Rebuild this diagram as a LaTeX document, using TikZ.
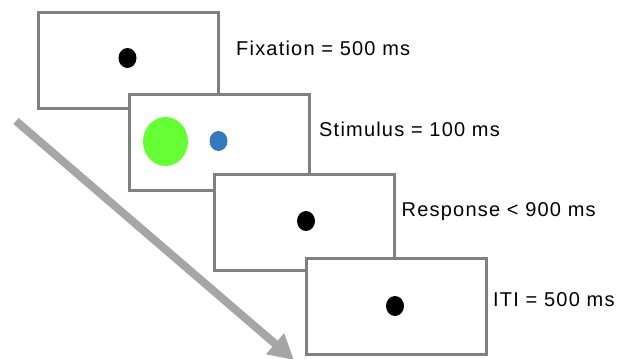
\documentclass[tikz,border=0pt]{standalone}
\usepackage{fontspec}
\setmainfont[LetterSpace=6]{Liberation Sans}
\usetikzlibrary{shapes.geometric,arrows.meta}

\definecolor{frameGray}{RGB}{128,128,128}
\definecolor{arrowGray}{RGB}{166,166,166}
\definecolor{stimGreen}{RGB}{102,255,51}
\definecolor{stimBlue}{RGB}{52,120,190}

\begin{document}
\begin{tikzpicture}
[x=1pt,y=-1pt,
  screenDecorate/.style={shape=rectangle,draw=frameGray,fill=white,line width=3pt,
    minimum width=180pt,minimum height=96pt,inner sep=0pt},
  dotDecorate/.style={shape=ellipse,fill=black,minimum width=18pt,minimum height=20pt,inner sep=0pt},
  labelDecorate/.style={anchor=base west,inner sep=0pt,font=\fontsize{20}{24}\selectfont},
  arrowDecorate/.style={-{Triangle[length=25pt,width=26pt]},line width=8pt,draw=arrowGray}]
\useasboundingbox (0,0) rectangle (619,359);
%% screens
\foreach \nodename/\x/\y in {
  fix/128/60,
  stim/219/142,
  resp/304/222,
  iti/396.5/306.5}
{
  \node (\nodename) at (\x,\y) [screenDecorate] {};
}
%% dots
\node (fixdot) at (127.5,58) [dotDecorate] {};
\node (green) at (165.5,141.5) [dotDecorate,fill=stimGreen,minimum width=45pt,minimum height=49pt] {};
\node (blue) at (218.5,141) [dotDecorate,fill=stimBlue] {};
\node (respdot) at (306,221) [dotDecorate] {};
\node (itidot) at (395,306) [dotDecorate] {};
%% durations
\node (fixtext) at (236,55) [labelDecorate] {Fixation = 500 ms};
\node (stimtext) at (319,136) [labelDecorate] {Stimulus = 100 ms};
\node (resptext) at (401.5,216.5) [labelDecorate] {Response < 900 ms};
\node (ititext) at (493,306) [labelDecorate] {ITI = 500 ms};
%% time arrow
\coordinate (timestart) at (16,121);
\coordinate (timeend) at (294,360);
\draw[arrowDecorate] (timestart) -- (timeend);
\end{tikzpicture}
\end{document}
